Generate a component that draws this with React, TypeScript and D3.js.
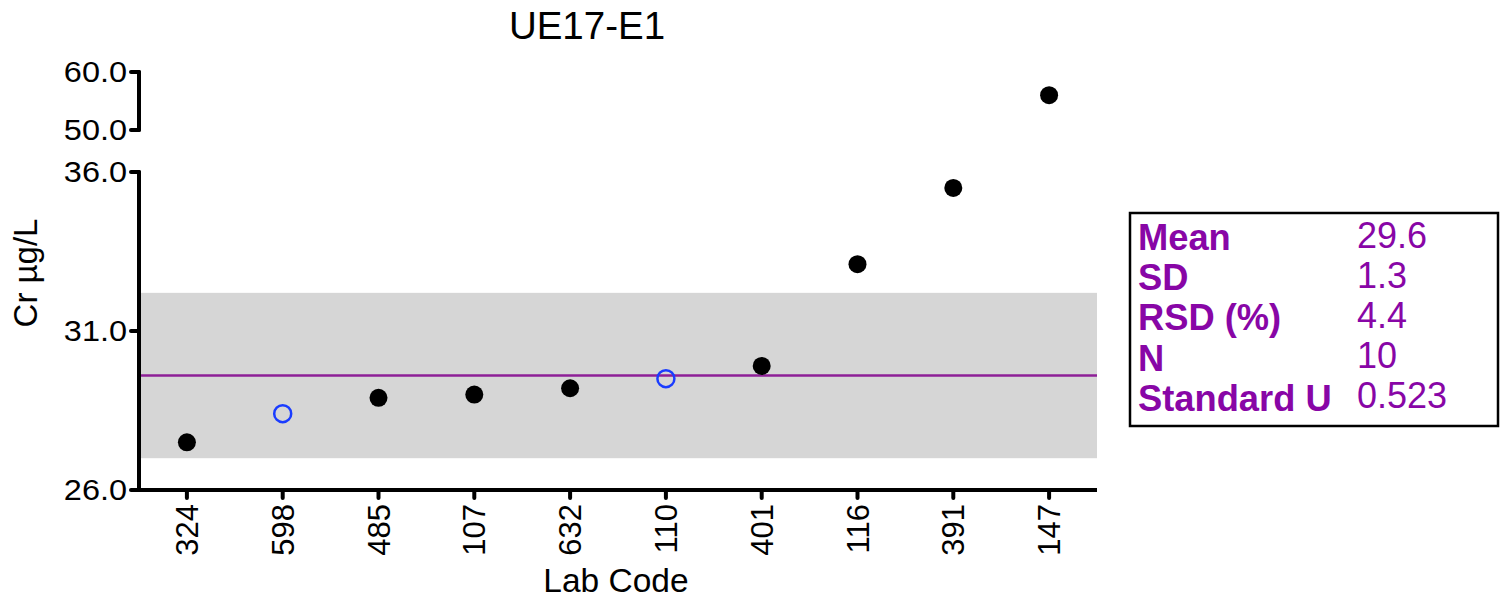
import React from "react";
import * as d3 from "d3";

const labCodes = ["324", "598", "485", "107", "632", "110", "401", "116", "391", "147"];
const values = [27.5, 28.4, 28.9, 29.0, 29.2, 29.5, 29.9, 33.1, 35.5, 56.0];
const openMarkers = [false, true, false, false, false, true, false, false, false, false];
const lowerTicks = [26, 31, 36];
const upperTicks = [50, 60];
const meanValue = 29.6;
const sdValue = 1.3;
const statLabels = ["Mean", "SD", "RSD (%)", "N", "Standard U"];
const statValues = ["29.6", "1.3", "4.4", "10", "0.523"];

export default function App() {
  const W = 1504, H = 598;
  const axisX = 139;
  const x = d3.scaleBand<string>().domain(labCodes).range([axisX, 1097]);
  const yLow = d3.scaleLinear().domain([26, 36]).range([490, 172]);
  const yHigh = d3.scaleLinear().domain([50, 60]).range([130, 72]);
  const y = (v: number) => (v <= 36 ? yLow(v) : yHigh(v));
  const font = "Arial, 'Liberation Sans', Helvetica, sans-serif";
  const purple = "#8806a6";
  const bandTop = yLow(meanValue + 2 * sdValue);
  const bandBot = yLow(meanValue - 2 * sdValue);
  const tickFont = 29.5;

  return (
    <svg width={W} height={H} style={{ position: "absolute", left: 0, top: 0 }} fontFamily={font}>
      <rect width={W} height={H} fill="#fff" />
      <text x={587} y={39} fontSize={38.5} textAnchor="middle">UE17-E1</text>
      {/* band */}
      <rect x={axisX} y={bandTop} width={1097 - axisX} height={bandBot - bandTop} fill="#d6d6d6" />
      <line x1={axisX} x2={1097} y1={yLow(meanValue)} y2={yLow(meanValue)} stroke="#8e1f97" strokeWidth={2.5} />
      {/* y axes */}
      <line x1={axisX} x2={axisX} y1={yLow(26)} y2={yLow(36)} stroke="#000" strokeWidth={4} strokeLinecap="round" />
      <line x1={axisX} x2={axisX} y1={yHigh(50)} y2={yHigh(60)} stroke="#000" strokeWidth={4} strokeLinecap="round" />
      {lowerTicks.map((t) => (
        <g key={"l" + t}>
          <line x1={131} x2={axisX} y1={yLow(t)} y2={yLow(t)} stroke="#000" strokeWidth={4} strokeLinecap="round" />
          <text transform={`translate(127,${yLow(t) + 10}) scale(1.1,1)`} fontSize={tickFont} textAnchor="end">{t.toFixed(1)}</text>
        </g>
      ))}
      {upperTicks.map((t) => (
        <g key={"u" + t}>
          <line x1={131} x2={axisX} y1={yHigh(t)} y2={yHigh(t)} stroke="#000" strokeWidth={4} strokeLinecap="round" />
          <text transform={`translate(127,${yHigh(t) + 10}) scale(1.1,1)`} fontSize={tickFont} textAnchor="end">{t.toFixed(1)}</text>
        </g>
      ))}
      <text transform={`translate(37,273) rotate(-90)`} fontSize={33} textAnchor="middle">Cr µg/L</text>
      {/* x axis */}
      <line x1={131} x2={1097} y1={490} y2={490} stroke="#000" strokeWidth={4} />
      {labCodes.map((c) => {
        const cx = (x(c) as number) + x.bandwidth() / 2;
        return (
          <g key={c}>
            <line x1={cx} x2={cx} y1={490} y2={498} stroke="#000" strokeWidth={4} strokeLinecap="round" />
            <text transform={`translate(${cx + 11},504) rotate(-90)`} fontSize={31} textAnchor="end">{c}</text>
          </g>
        );
      })}
      <text x={616} y={592} fontSize={33.5} textAnchor="middle">Lab Code</text>
      {/* points */}
      {labCodes.map((c, i) => {
        const cx = (x(c) as number) + x.bandwidth() / 2;
        const cy = y(values[i]);
        return openMarkers[i] ? (
          <circle key={c} cx={cx} cy={cy} r={8.5} fill="none" stroke="#1a3cff" strokeWidth={2.5} />
        ) : (
          <circle key={c} cx={cx} cy={cy} r={9} fill="#000" />
        );
      })}
      {/* stats box */}
      <rect x={1130} y={213} width={368} height={213} fill="#fff" stroke="#000" strokeWidth={2.5} />
      {statLabels.map((l, i) => (
        <g key={l}>
          <text x={1138} y={250 + i * 40.2} fontSize={36.3} fontWeight="bold" fill={purple}>{l}</text>
          <text x={1357} y={247.5 + i * 40.2} fontSize={36} fill={purple}>{statValues[i]}</text>
        </g>
      ))}
    </svg>
  );
}
